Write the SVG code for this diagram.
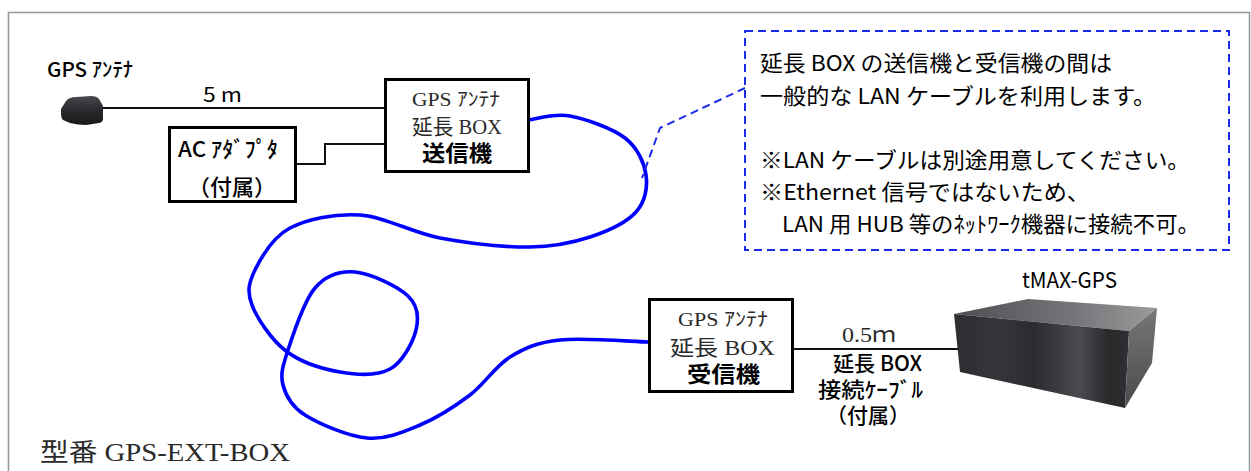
<svg xmlns="http://www.w3.org/2000/svg" width="1251" height="471" viewBox="0 0 1251 471">
  <style>
    .frame { fill: none; stroke: #9a9a9a; stroke-width: 1.6; }
    .box { fill: #fff; stroke: #000; stroke-width: 3; }
    .wire { fill: none; stroke: #111; stroke-width: 2; }
    .lan { fill: none; stroke: #0000ff; stroke-width: 3.6; stroke-linecap: round; stroke-linejoin: round; }
    .dash { fill: none; stroke: #1a2ae8; stroke-width: 2; stroke-dasharray: 8 5; }
    .goth { font-family: "Noto Sans CJK JP", "Noto Sans", sans-serif; fill: #000; }
    .min { font-family: "Liberation Serif", "Noto Sans CJK JP", serif; fill: #2a2a2a; }
    .b { font-weight: bold; }
    .m { font-weight: 500; }
    .mid { text-anchor: middle; }
  </style>
  <defs>
    <linearGradient id="antennaFill" x1="0" y1="0" x2="0" y2="1">
      <stop offset="0" stop-color="#4a4a4e"/>
      <stop offset="0.45" stop-color="#2c2c30"/>
      <stop offset="1" stop-color="#18181a"/>
    </linearGradient>
    <linearGradient id="frontFace" x1="0" y1="0" x2="1" y2="0">
      <stop offset="0" stop-color="#2e2e32"/>
      <stop offset="0.25" stop-color="#36363a"/>
      <stop offset="0.45" stop-color="#2b2b2f"/>
      <stop offset="0.72" stop-color="#4a4a4f"/>
      <stop offset="0.88" stop-color="#2a2a2d"/>
      <stop offset="1" stop-color="#2f2f33"/>
    </linearGradient>
    <linearGradient id="topFace" x1="0" y1="0" x2="1" y2="0">
      <stop offset="0" stop-color="#4e4e52"/>
      <stop offset="0.6" stop-color="#77777b"/>
      <stop offset="1" stop-color="#9a9a9c"/>
    </linearGradient>
    <linearGradient id="sideFace" x1="0" y1="0" x2="0" y2="1">
      <stop offset="0" stop-color="#77777a"/>
      <stop offset="1" stop-color="#4a4a4d"/>
    </linearGradient>
  </defs>

  <rect x="0" y="0" width="1251" height="471" fill="#fff"/>
  <rect class="frame" x="8.5" y="12.5" width="1241" height="470"/>

  <!-- cables -->
  <g id="connectors">
    <line class="wire" x1="100" y1="108" x2="385" y2="108"/>
    <polyline class="wire" points="297,164 325,164 325,144 385,144"/>
    <line class="wire" x1="794" y1="349" x2="967" y2="349"/>
    <path class="lan" d="M529,120 C535.8,119.3 554,113 570,116 C586,119 612.3,128.2 625,138 C637.7,147.8 644.2,162.7 646,175 C647.8,187.3 645.3,201.7 636,212 C626.7,222.3 607.7,231.2 590,237 C572.3,242.8 555,246.8 530,247 C505,247.2 468.3,243.3 440,238 C411.7,232.7 385,216.7 360,215 C335,213.3 307.5,218.8 290,228 C272.5,237.2 261.3,257.2 255,270 C248.7,282.8 246.8,291.5 252,305 C257.2,318.5 271.3,339.8 286,351 C300.7,362.2 322.7,369 340,372 C357.3,375 377.3,376 390,369 C402.7,362 413,342.2 416,330 C419,317.8 418.2,305.7 408,296 C397.8,286.3 370.5,273.3 355,272 C339.5,270.7 326.2,275 315,288 C303.8,301 293.3,333.8 288,350 C282.7,366.2 280.2,374.2 283,385 C285.8,395.8 291,406.2 305,415 C319,423.8 347.8,436.3 367,438 C386.2,439.7 402.8,432.2 420,425 C437.2,417.8 455,406.3 470,395 C485,383.7 495,366.2 510,357 C525,347.8 537,342.5 560,340 C583,337.5 633.3,341.7 648,342"/>
    <polyline class="dash" points="745,88 660,128 642,178"/>
  </g>

  <!-- GPS antenna -->
  <g id="antenna">
    <text class="goth m" x="47" y="77" font-size="20" textLength="86" lengthAdjust="spacingAndGlyphs">GPS ｱﾝﾃﾅ</text>
    <path d="M61,109 L66,101 Q69,97 76,97 L91,96 Q97,96 99,99 L103,106 L103,119 Q103,122 99,123 L86,125 Q78,125 70,123 L63,120 Q61,118 61,114 Z" fill="url(#antennaFill)"/>
    <text class="goth" x="203" y="102" font-size="20" textLength="39" lengthAdjust="spacingAndGlyphs">5 m</text>
  </g>

  <!-- AC adapter -->
  <g id="ac-adapter">
    <rect class="box" x="169.5" y="127.5" width="126" height="74"/>
    <text class="goth m" x="178" y="157" font-size="22" textLength="100" lengthAdjust="spacingAndGlyphs">AC ｱﾀﾞﾌﾟﾀ</text>
    <text class="goth m mid" x="232" y="195" font-size="22">（付属）</text>
  </g>

  <!-- transmitter -->
  <g id="transmitter">
    <rect class="box" x="385.5" y="79.5" width="143" height="92"/>
    <text class="min" x="412" y="106" font-size="19" textLength="88" lengthAdjust="spacingAndGlyphs">GPS ｱﾝﾃﾅ</text>
    <text class="min" x="412" y="134" font-size="21" textLength="90" lengthAdjust="spacingAndGlyphs">延長 BOX</text>
    <text class="goth b" x="422" y="161" font-size="22" textLength="70" lengthAdjust="spacingAndGlyphs">送信機</text>
  </g>

  <!-- note -->
  <g id="note">
    <rect class="dash" x="745" y="31" width="484" height="219"/>
    <text class="goth" x="760" y="71" font-size="22" textLength="352" lengthAdjust="spacingAndGlyphs">延長 BOX の送信機と受信機の間は</text>
    <text class="goth" x="760" y="104" font-size="22" textLength="396" lengthAdjust="spacingAndGlyphs">一般的な LAN ケーブルを利用します。</text>
    <text class="goth" x="760" y="168" font-size="22" textLength="430" lengthAdjust="spacingAndGlyphs">※LAN ケーブルは別途用意してください。</text>
    <text class="goth" x="760" y="200" font-size="22" textLength="330" lengthAdjust="spacingAndGlyphs">※Ethernet 信号ではないため、</text>
    <text class="goth" x="782" y="232" font-size="22" textLength="418" lengthAdjust="spacingAndGlyphs">LAN 用 HUB 等のﾈｯﾄﾜｰｸ機器に接続不可。</text>
  </g>

  <!-- receiver -->
  <g id="receiver">
    <rect class="box" x="649.5" y="299.5" width="143" height="92"/>
    <text class="min" x="678" y="326" font-size="19" textLength="90" lengthAdjust="spacingAndGlyphs">GPS ｱﾝﾃﾅ</text>
    <text class="min" x="670" y="355" font-size="21" textLength="105" lengthAdjust="spacingAndGlyphs">延長 BOX</text>
    <text class="goth b" x="687" y="382" font-size="22" textLength="73" lengthAdjust="spacingAndGlyphs">受信機</text>
  </g>

  <!-- extension cable label -->
  <g id="cable-label">
    <text class="min" x="842" y="342" font-size="21" textLength="54" lengthAdjust="spacingAndGlyphs" fill="#000">0.5ｍ</text>
    <text class="goth m" x="833" y="371" font-size="21" textLength="89" lengthAdjust="spacingAndGlyphs">延長 BOX</text>
    <text class="goth m" x="818" y="397" font-size="21" textLength="105" lengthAdjust="spacingAndGlyphs">接続ｹｰﾌﾞﾙ</text>
    <text class="goth m mid" x="868" y="423" font-size="21">（付属）</text>
  </g>

  <!-- tMAX-GPS unit -->
  <g id="tmax">
    <text class="goth" x="1022" y="288" font-size="22" textLength="95" lengthAdjust="spacingAndGlyphs">tMAX-GPS</text>
    <polygon points="954,314 1028,299 1157,308 1129,331" fill="url(#topFace)"/>
    <polygon points="954,314 1129,331 1125,408 960,372" fill="url(#frontFace)"/>
    <polygon points="1129,331 1157,308 1152,363 1125,408" fill="url(#sideFace)"/>
  </g>

  <!-- model number -->
  <text class="min" x="40" y="461" font-size="25" textLength="250" lengthAdjust="spacingAndGlyphs" fill="#000">型番 GPS-EXT-BOX</text>
</svg>
